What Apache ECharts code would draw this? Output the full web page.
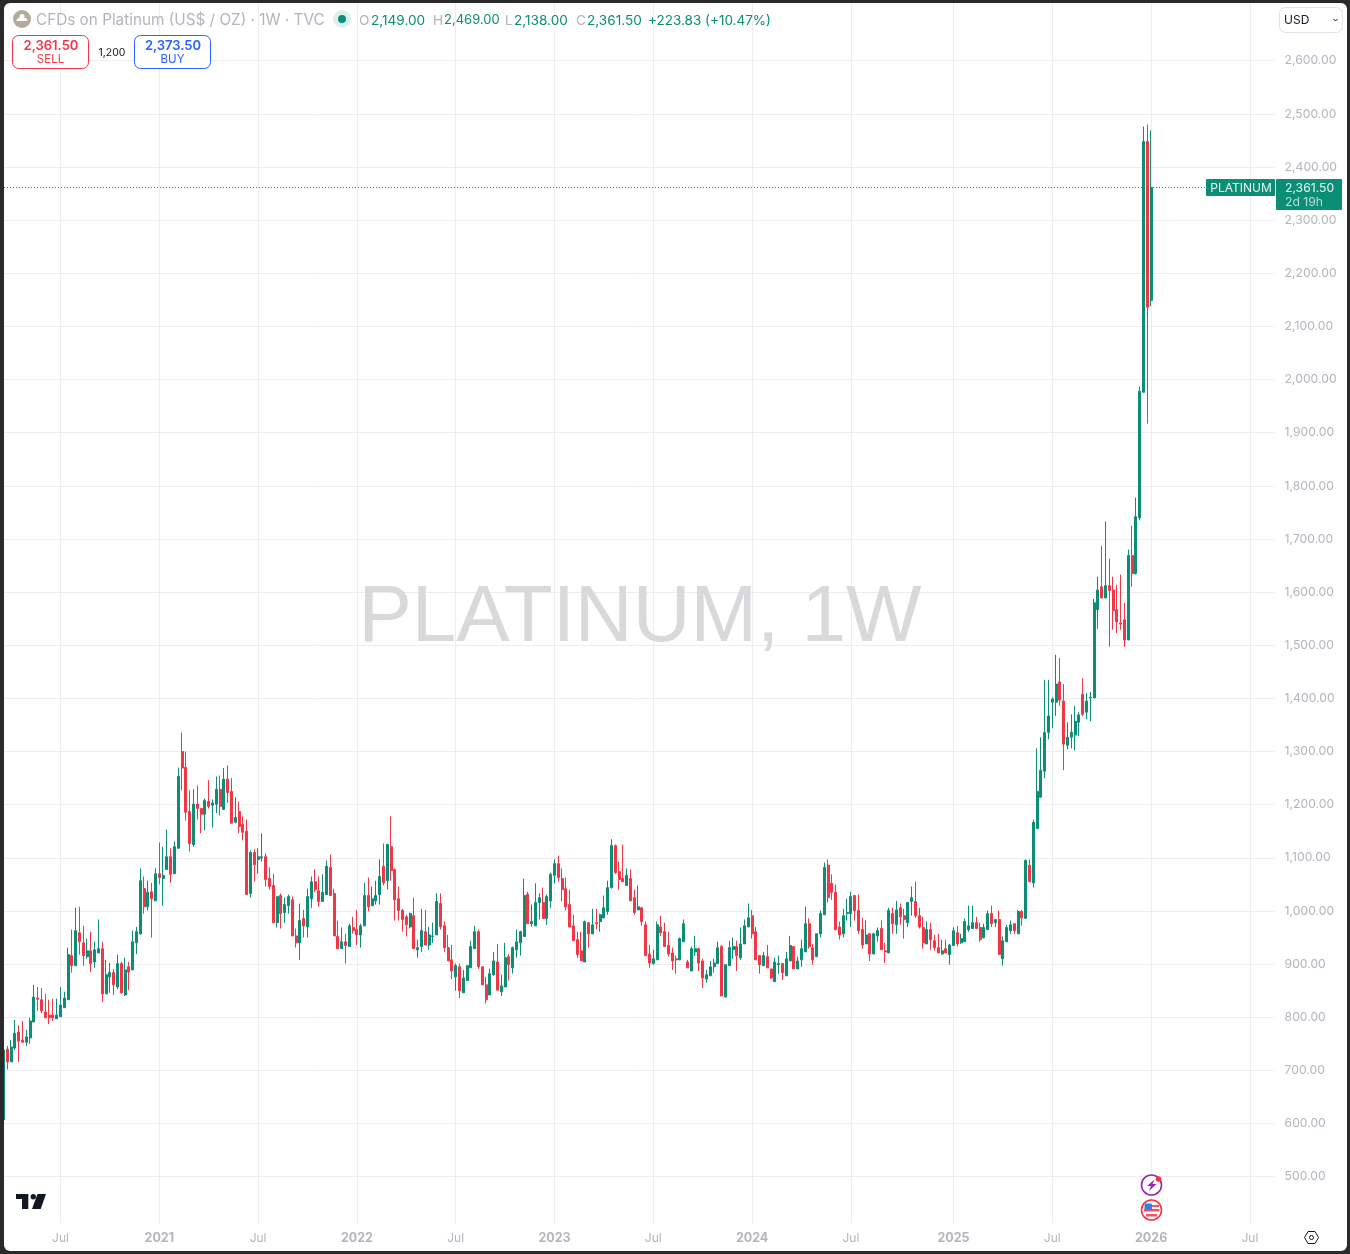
<!DOCTYPE html>
<html lang="en">

<head>
    <meta charset="UTF-8">
    <title>PLATINUM, 1W</title>
    <script src="https://cdn.jsdelivr.net/npm/echarts@6/dist/echarts.min.js"></script>
    <style>
        html, body { margin: 0; padding: 0; background: #2a2a2a; overflow: hidden; }
        #myCharts { width: 1350px; height: 1254px; background: #fff; }
        #frame {
            position: absolute; left: 4px; top: 3px; width: 1343px; height: 1248px;
            border-radius: 6px; box-shadow: 0 0 0 12px #2a2a2a; pointer-events: none;
        }
    </style>
</head>

<body>
    <div id="myCharts"></div>
    <div id="frame"></div>

    <script type="text/javascript">
        // weekly bars
        var opens = [
            607,740,716,742,772,757,753,761,791,836,833,810,804,804,797,801,818,833,916,897,
            959,940,914,925,904,921,929,844,876,884,857,901,842,895,889,940,957,1042,1008,1036,
            1019,1070,1061,1078,1102,1070,1118,1300,1270,1187,1125,1201,1193,1182,1206,1199,1201,1229,1191,1248,
            1225,1167,1187,1163,1150,1033,1110,1097,1100,1102,1061,1048,978,1029,997,1010,1021,953,940,986,
            970,1023,1055,1038,1018,1031,1082,1033,952,929,942,933,969,965,955,972,1029,1010,1019,1031,
            1084,1057,1121,1078,1023,1001,989,970,991,927,933,961,936,952,955,1014,972,931,908,876,
            895,846,869,893,929,961,895,861,842,880,904,848,857,914,893,927,940,952,1031,976,
            972,1016,1016,986,1019,1067,1089,1061,1042,1012,972,946,925,904,978,957,978,980,987,999,
            1044,1123,1074,1061,1048,1061,1025,1002,1006,974,919,901,908,970,961,935,921,910,908,942,
            904,887,923,929,906,872,878,895,901,933,838,897,927,933,912,938,970,991,961,916,
            897,914,891,867,899,901,878,906,933,891,908,923,976,931,914,957,993,1086,1052,1035,
            970,957,995,995,1029,1001,965,938,957,919,953,967,925,921,995,974,1006,991,978,1018,
            1018,991,969,938,965,944,931,919,929,918,935,959,940,942,965,967,978,969,950,965,
            995,978,984,910,942,963,976,957,999,986,1086,1053,1155,1214,1263,1336,1393,1393,1431,1395,
            1312,1327,1331,1355,1408,1374,1401,1401,1567,1610,1589,1612,1604,1567,1542,1548,1510,1669,1635,1740,
            1976,2448,2149
        ]
        var closes = [
            738,716,744,770,755,753,763,793,838,834,812,799,799,799,804,823,836,918,897,963,
            942,916,925,901,927,929,844,880,884,861,901,846,889,885,942,961,1057,1008,1035,1023,
            1070,1063,1067,1102,1069,1121,1253,1269,1186,1127,1201,1193,1182,1208,1197,1203,1229,1197,1248,1223,
            1165,1176,1159,1148,1031,1110,1087,1102,1102,1059,1046,978,1027,995,1012,1027,953,940,982,972,
            1027,1055,1040,1018,1035,1084,1029,953,929,942,935,972,963,955,972,1029,1008,1023,1029,1065,
            1053,1125,1076,1021,1001,984,974,995,929,931,963,936,955,953,1018,970,931,906,887,897,
            850,874,897,933,961,895,861,833,882,906,851,859,912,899,931,942,961,1029,976,980,
            1016,1025,986,1027,1069,1089,1063,1040,1008,970,944,918,906,980,957,974,976,993,1006,1044,
            1123,1072,1059,1055,1067,1019,997,1008,980,916,902,910,974,959,933,919,906,908,948,976,
            893,929,929,902,874,880,895,902,931,840,899,931,933,916,938,972,987,957,908,899,
            916,893,874,904,901,884,910,935,891,906,929,976,933,908,957,995,1082,1025,1035,965,
            955,991,997,1027,1001,963,936,955,919,957,963,927,923,1001,976,1002,989,984,1016,1025,
            991,970,940,965,946,931,921,925,921,936,963,938,948,980,972,978,967,946,969,995,
            976,984,918,944,969,974,963,999,987,1095,1055,1167,1225,1265,1336,1367,1399,1427,1397,1314,
            1327,1336,1357,1369,1370,1395,1402,1580,1604,1589,1612,1603,1565,1544,1540,1510,1669,1635,1742,1978,
            2448,2136,2361.5
        ]
        var lows = [
            600,702,716,738,716,752,746,750,791,812,808,799,787,793,797,801,818,833,884,897,
            918,897,910,885,893,921,829,844,846,842,853,844,840,851,889,919,955,995,1001,950,
            1019,1050,1010,1078,1053,1070,1118,1227,1170,1112,1121,1172,1146,1152,1193,1157,1184,1180,1191,1203,
            1165,1165,1146,1133,1031,1025,1055,1070,1093,1046,1040,978,969,967,978,995,953,931,908,950,
            950,1006,1035,1008,1018,1031,1029,953,929,929,901,933,957,936,931,972,999,1010,1012,1012,
            1048,1040,1057,982,982,961,952,967,929,912,923,935,927,940,955,965,923,906,872,850,
            836,846,869,893,929,891,861,826,842,878,851,840,857,869,882,912,916,952,976,970,
            972,984,986,974,1006,1052,1055,1018,1001,970,944,912,906,904,931,957,965,961,986,993,
            1042,1070,1040,1055,1048,1019,993,1002,972,916,893,899,908,953,933,914,889,882,908,942,
            893,887,916,887,855,865,878,884,901,840,838,897,910,887,908,938,970,948,908,882,
            897,893,872,867,882,870,878,906,891,891,895,923,929,899,914,950,993,1016,1021,965,
            946,950,982,970,982,957,929,938,906,919,942,927,902,921,957,957,974,948,970,991,
            987,967,929,938,927,925,921,918,921,899,935,933,938,942,961,967,967,942,948,965,
            970,970,918,897,942,957,957,957,972,986,1055,1044,1155,1214,1250,1323,1344,1367,1386,1265,
            1304,1306,1302,1329,1367,1361,1357,1401,1531,1589,1589,1497,1529,1523,1529,1497,1510,1610,1633,1735,
            1976,1917,2138
        ]
        var highs = [
            740,746,757,795,785,793,776,799,861,857,855,844,833,835,835,857,848,931,965,1006,
            1008,972,948,961,942,984,942,908,902,891,918,904,912,904,963,970,1080,1065,1057,1053,
            1080,1129,1121,1153,1118,1131,1270,1336,1300,1227,1229,1236,1193,1212,1246,1210,1253,1255,1269,1274,
            1250,1214,1206,1178,1172,1114,1116,1118,1146,1108,1082,1070,1027,1033,1025,1031,1027,967,1014,1002,
            1042,1065,1078,1065,1069,1095,1106,1042,982,969,957,976,989,1002,976,1053,1063,1046,1057,1097,
            1127,1125,1178,1080,1046,1004,993,997,1025,946,1004,1002,970,978,1033,1033,980,955,936,901,
            901,889,897,944,972,965,895,876,891,923,938,880,940,919,933,965,963,1061,1036,1012,
            1052,1033,1044,1031,1072,1097,1104,1080,1063,1040,993,961,961,982,978,1004,1004,995,1029,1057,
            1135,1125,1093,1125,1080,1078,1040,1048,1008,980,936,927,980,991,978,961,931,916,950,984,
            908,933,953,931,910,889,906,910,942,936,899,944,950,944,969,984,1014,1002,970,916,
            923,936,891,912,916,902,923,953,933,914,946,1008,986,938,957,1001,1091,1097,1069,1050,
            980,1004,1023,1036,1029,1031,987,982,959,959,969,982,940,1006,1006,1019,1014,1004,1017,1046,
            1055,1006,989,980,978,955,957,946,946,938,969,972,957,986,1010,1010,989,978,976,1001,
            1010,984,1001,952,974,982,976,1002,1002,1097,1097,1172,1306,1327,1435,1435,1402,1482,1476,1427,
            1355,1370,1386,1374,1438,1410,1412,1587,1629,1687,1733,1663,1629,1614,1633,1580,1680,1725,1778,1987,
            2476,2480,2469
        ]

        // time axis labels: position in the week list and text
        var tickWeeks = [15, 41, 67, 93, 119, 145, 171, 197, 223, 250, 276, 302, 328]
        var tickLabels = ['Jul', '2021', 'Jul', '2022', 'Jul', '2023', 'Jul', '2024', 'Jul', '2025', 'Jul', '2026', 'Jul']
        var totalWeeks = 335

        var upColor = '#0B8E75'
        var downColor = '#F23645'
        var greyText = '#B2B5BE'
        var gridColor = '#EDEDEE'
        var uiFont = 'Inter, "Noto Sans", sans-serif'

        var weeks = []
        for (var w = 0; w < totalWeeks; w++) {
            var d = new Date(Date.UTC(2020, 2, 2) + w * 7 * 86400000)
            weeks.push(d.toISOString().slice(0, 10))
        }

        var candles = opens.map(function (o, i) {
            return [o, closes[i], lows[i], highs[i]]
        })
        var last = closes[closes.length - 1]

        var myChart = echarts.init(document.getElementById('myCharts'), null, { renderer: 'canvas' })

        var option = {
            animation: false,
            backgroundColor: '#fff',
            grid: [
                // candles: 400..2700 so that the round prices land where they should
                { left: 1.6, width: 1273, top: 7.6, height: 1222.2 },
                // time axis, only carries the vertical lines and the labels
                { left: 3.5, width: 1269.2, top: 3, height: 1220 }
            ],
            xAxis: [
                { type: 'category', gridIndex: 0, data: weeks, show: false },
                {
                    type: 'category',
                    gridIndex: 1,
                    data: weeks,
                    boundaryGap: false,
                    axisLine: { show: false },
                    axisTick: { show: false },
                    splitLine: {
                        show: true,
                        interval: function (i) { return tickWeeks.indexOf(i) >= 0 },
                        lineStyle: { color: gridColor, width: 1 }
                    },
                    axisLabel: {
                        interval: function (i) { return tickWeeks.indexOf(i) >= 0 },
                        margin: 9,
                        formatter: function (val, i) {
                            var t = tickLabels[tickWeeks.indexOf(i)]
                            return t === 'Jul' ? '{m|Jul}' : '{y|' + t + '}'
                        },
                        rich: {
                            m: { color: greyText, fontFamily: uiFont, fontSize: 12 },
                            y: { color: greyText, fontFamily: uiFont, fontSize: 12.5, fontWeight: 700 }
                        }
                    }
                }
            ],
            yAxis: [
                {
                    type: 'value',
                    gridIndex: 0,
                    position: 'right',
                    min: 400,
                    max: 2700,
                    interval: 100,
                    axisLine: { show: false },
                    axisTick: { show: false },
                    splitLine: { show: true, showMinLine: false, showMaxLine: false, lineStyle: { color: gridColor, width: 1 } },
                    axisLabel: {
                        margin: 10,
                        showMinLabel: false,
                        showMaxLabel: false,
                        color: greyText,
                        fontFamily: uiFont,
                        fontSize: 12.2,
                        formatter: function (v) {
                            return v.toLocaleString('en-US', { minimumFractionDigits: 2, maximumFractionDigits: 2 })
                        }
                    }
                },
                { type: 'value', gridIndex: 1, show: false, min: 0, max: 1 }
            ],
            series: [{
                type: 'candlestick',
                xAxisIndex: 0,
                yAxisIndex: 0,
                barWidth: 2.4,
                data: candles,
                itemStyle: {
                    color: upColor,
                    color0: downColor,
                    borderColor: upColor,
                    borderColor0: downColor,
                    borderWidth: 1
                }
            }]
        }
        myChart.setOption(option)

        function txt(x, y, text, fill, size, weight, align) {
            return {
                type: 'text', z: 50,
                style: {
                    x: x, y: y, text: text, fill: fill,
                    font: (weight || 400) + ' ' + size + 'px ' + uiFont,
                    align: align || 'left', verticalAlign: 'middle'
                }
            }
        }
        function box(x, y, w, h, r, fill, stroke, z) {
            return {
                type: 'rect', z: z || 49,
                shape: { x: x, y: y, width: w, height: h, r: r },
                style: { fill: fill || '#fff', stroke: stroke || null, lineWidth: 1 }
            }
        }
        function circle(x, y, r, fill, stroke, lw, z) {
            return {
                type: 'circle', z: z || 50,
                shape: { cx: x, cy: y, r: r },
                style: { fill: fill || null, stroke: stroke || null, lineWidth: lw || 1 }
            }
        }
        function poly(points, fill, stroke, lw) {
            return {
                type: 'polygon', z: 51,
                shape: { points: points },
                style: { fill: fill || null, stroke: stroke || null, lineWidth: lw || 1 }
            }
        }

        var lastY = myChart.convertToPixel({ yAxisIndex: 0 }, last)
        var lineY = Math.floor(lastY) + 0.5

        var overlay = [
            // watermark
            {
                type: 'text', z: 1,
                style: {
                    x: 640, y: 618.5, text: 'PLATINUM, 1W', fill: '#D8D9DB',
                    font: '400 80px "Liberation Sans", Arial, sans-serif',
                    align: 'center', verticalAlign: 'middle'
                }
            },

            // last price line
            {
                type: 'line', z: 1,
                shape: { x1: 4, y1: lineY, x2: 1206, y2: lineY },
                style: { stroke: upColor, lineWidth: 1, lineDash: [1, 2] }
            },

            // header line
            circle(22, 19, 9, '#B5A998'),
            poly([[16, 21], [28, 21], [26, 18], [18, 18]], '#fff'),
            circle(22, 16.5, 2.5, '#fff', null, 1, 52),
            txt(36, 20.5, 'CFDs on Platinum (US$ / OZ) · 1W · TVC', greyText, 15.3),
            circle(342, 19, 9, '#DDF1EC'),
            circle(342, 19, 4, upColor, null, 1, 52),
            txt(359, 20.5, 'O', greyText, 13.6),
            txt(371, 20.5, '2,149.00', upColor, 13.6),
            txt(433, 20.5, 'H', greyText, 13.6),
            txt(444, 20.5, '2,469.00', upColor, 13),
            txt(505, 20.5, 'L', greyText, 13.6),
            txt(514, 20.5, '2,138.00', upColor, 13.6),
            txt(576, 20.5, 'C', greyText, 13.6),
            txt(587, 20.5, '2,361.50', upColor, 13.6),
            txt(648, 20.5, '+223.83 (+10.47%)', upColor, 13.5),

            // sell / buy
            box(12.5, 35.5, 76, 33, 6, '#fff', downColor),
            txt(51, 46, '2,361.50', downColor, 13, 600, 'center'),
            txt(50.5, 60, 'SELL', downColor, 11.5, 400, 'center'),
            txt(112, 53, '1,200', '#131722', 10.5, 400, 'center'),
            box(134.5, 35.5, 76, 33, 6, '#fff', '#2962FF'),
            txt(173, 46, '2,373.50', '#2962FF', 13, 600, 'center'),
            txt(172.5, 60, 'BUY', '#2962FF', 11.5, 400, 'center'),

            // currency button
            box(1279.5, 7.5, 63, 25, 6, '#fff', '#E0E3EB'),
            txt(1284, 20.5, 'USD', '#131722', 12),
            {
                type: 'polyline', z: 50,
                shape: { points: [[1333.5, 19], [1335.5, 21], [1337.5, 19]] },
                style: { fill: null, stroke: '#131722', lineWidth: 1 }
            },

            // last price tags
            box(1206, lastY - 8.5, 69, 17, 1, upColor),
            txt(1241, lastY + 1, 'PLATINUM', '#E9F5F2', 12, 400, 'center'),
            box(1276, lastY - 8.5, 66, 31, 1, upColor),
            txt(1285, lastY + 0.5, '2,361.50', '#E9F5F2', 12.2),
            txt(1285, lastY + 14.5, '2d 19h', '#B9DED6', 12.2),

            // logo
            poly([[16, 1194], [28.3, 1194], [28.3, 1209], [22, 1209], [22, 1199], [16, 1199]], '#131722'),
            circle(33.3, 1196.7, 2.7, '#131722'),
            poly([[37.5, 1194], [46, 1194], [40.7, 1209], [32, 1209]], '#131722'),

            // event markers under the last bar
            circle(1151.5, 1185, 10, '#fff', '#9C27B0', 1.6),
            poly([[1154.5, 1179.5], [1147, 1186], [1151, 1186], [1149, 1191], [1156.5, 1184], [1152.5, 1184]], '#9C27B0'),
            circle(1158.5, 1179, 2.8, downColor, null, 1, 52),
            circle(1151.5, 1210, 10, '#fff', downColor, 1.6),
            box(1152, 1205, 7, 2, 0, '#F7525F', null, 51),
            box(1144, 1209, 15.5, 2.5, 0, '#F7525F', null, 51),
            box(1146, 1214, 11, 2.5, 0, '#F7525F', null, 51),
            box(1144.5, 1203.5, 7.5, 6.5, 1, '#3D7BEA', null, 52),

            // settings
            poly([[1304.5, 1237.5], [1308, 1231.5], [1315, 1231.5], [1318.5, 1237.5], [1315, 1243.5], [1308, 1243.5]], '#fff', '#131722', 1),
            circle(1311.5, 1237.5, 2, '#fff', '#131722', 1, 52)
        ]
        myChart.setOption({ graphic: overlay })
    </script>
</body>

</html>
